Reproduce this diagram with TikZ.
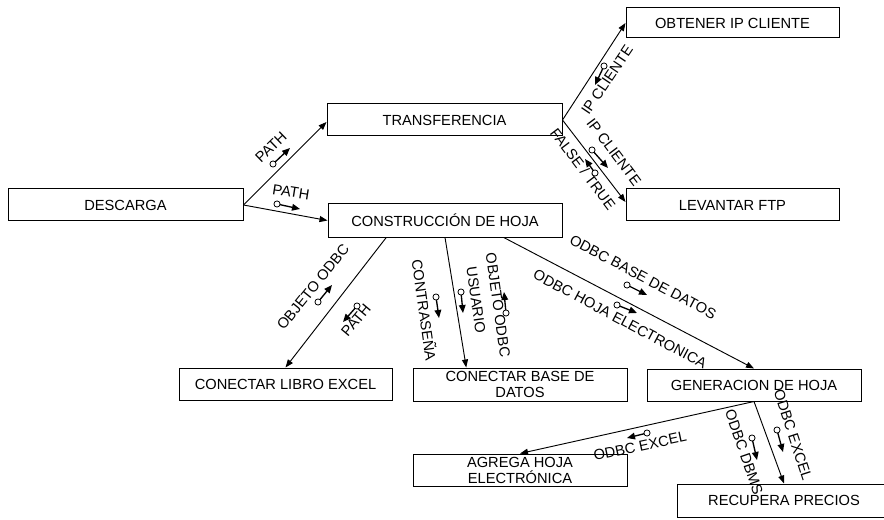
\documentclass[tikz,border=0pt]{standalone}
\usepackage{fontspec}
\setmainfont{Liberation Sans}
\usetikzlibrary{arrows.meta,calc}

\tikzset{
  box/.style={draw, line width=0.75pt, minimum width=#1*0.75pt,
    minimum height=32*0.75pt, inner sep=0pt, align=center,
    font=\fontsize{11}{12}\selectfont},
  call/.style={line width=0.7pt, -{Triangle[length=6pt,width=4.5pt]}},
  flowlabel/.style={inner sep=0pt, font=\fontsize{11}{12}\selectfont},
  coupleline/.style={line width=1pt, -{Triangle[length=6pt,width=5pt]}, shorten <=2.2pt},
  couplehead/.style={draw, fill=white, line width=0.6pt}
}

% data couple: open circle at the tail, filled arrow head at the tip
\newcommand\datacouple[2]{%
  \draw[coupleline] #1 -- #2;
  \draw[couplehead] #1 circle[radius=2.3pt];
}

\begin{document}
\begin{tikzpicture}[x=0.75pt, y=-0.75pt]
\useasboundingbox (0,0) rectangle (884,520);

% modules
\node[box=235] (descarga) at (125.5,205) {DESCARGA};
\node[box=235] (transf)   at (444.5,120) {TRANSFERENCIA};
\node[box=213, minimum height=30*0.75pt] (obtener) at (732.5,23) {OBTENER IP CLIENTE};
\node[box=213] (levantar) at (732.5,205) {LEVANTAR FTP};
\node[box=234, minimum height=33*0.75pt] (constr) at (445,220.5) {CONSTRUCCIÓN DE HOJA};
\node[box=213] (libro)    at (285.5,384) {CONECTAR LIBRO EXCEL};
\node[box=214, minimum height=33*0.75pt] (base) at (520,384.5) {CONECTAR BASE DE\\DATOS};
\node[box=214] (gener)    at (754,385) {GENERACION DE HOJA};
\node[box=214] (agrega)   at (520,470) {AGREGA HOJA\\ELECTRÓNICA};
\node[box=214, minimum height=33*0.75pt] (recupera) at (784,500.5) {RECUPERA PRECIOS};

% calls between modules
\draw[call] (descarga.east) -- ($(transf.west)+(0,2)$);
\draw[call] (descarga.east) -- (constr.west);
\draw[call] (transf.east) -- (obtener.west);
\draw[call] (transf.east) -- ($(levantar.west)+(0,-3)$);
\draw[call] ($(constr.south west)!0.25!(constr.south east)$) -- (libro.north);
\draw[call] (constr.south) -- ($(base.north west)!0.25!(base.north east)$);
\draw[call] ($(constr.south west)!0.75!(constr.south east)$) -- (gener.north);
\draw[call] (gener.south) -- (agrega.north);
\draw[call] (gener.south) -- (recupera.north);

% labels of the data passed along each call
\node[flowlabel, rotate=44]  (l1)  at (271,147) {PATH};
\node[flowlabel, rotate=-9]  (l2)  at (291,192) {PATH};
\node[flowlabel, rotate=56]  (l3)  at (607,80)  {IP CLIENTE};
\node[flowlabel, rotate=-53] (l4)  at (614,152) {IP CLIENTE};
\node[flowlabel, rotate=-53] (l5)  at (583,169) {FALSE / TRUE};
\node[flowlabel, rotate=51]  (l6)  at (313,287) {OBJETO ODBC};
\node[flowlabel, rotate=50]  (l7)  at (356,320) {PATH};
\node[flowlabel, rotate=-82] (l8)  at (425,310) {CONTRASEÑA};
\node[flowlabel, rotate=-82] (l9)  at (476,300) {USUARIO};
\node[flowlabel, rotate=-82] (l10) at (498,305) {OBJETO ODBC};
\node[flowlabel, rotate=-28] (l11) at (643,277) {ODBC BASE DE DATOS};
\node[flowlabel, rotate=-28] (l12) at (620,319) {ODBC HOJA ELECTRONICA};
\node[flowlabel, rotate=12]  (l13) at (640,446) {ODBC EXCEL};
\node[flowlabel, rotate=-71] (l14) at (744,452) {ODBC DBMS};
\node[flowlabel, rotate=-72] (l15) at (793,435) {ODBC EXCEL};

% data couples
\datacouple{(273,164)}{(290,148)}
\datacouple{(277,204)}{(300,209)}
\datacouple{(604,66)}{(595,85)}
\datacouple{(592,150)}{(608,168)}
\datacouple{(595,173)}{(585,159)}
\datacouple{(318,302)}{(332,285)}
\datacouple{(357,306)}{(343,322)}
\datacouple{(436,297)}{(439,318)}
\datacouple{(461,292)}{(463,313)}
\datacouple{(506,313)}{(504,292)}
\datacouple{(627,285)}{(647,295)}
\datacouple{(617,305)}{(637,313)}
\datacouple{(647,433)}{(627,438)}
\datacouple{(752,438)}{(757,460)}
\datacouple{(777,430)}{(783,452)}
\end{tikzpicture}
\end{document}
